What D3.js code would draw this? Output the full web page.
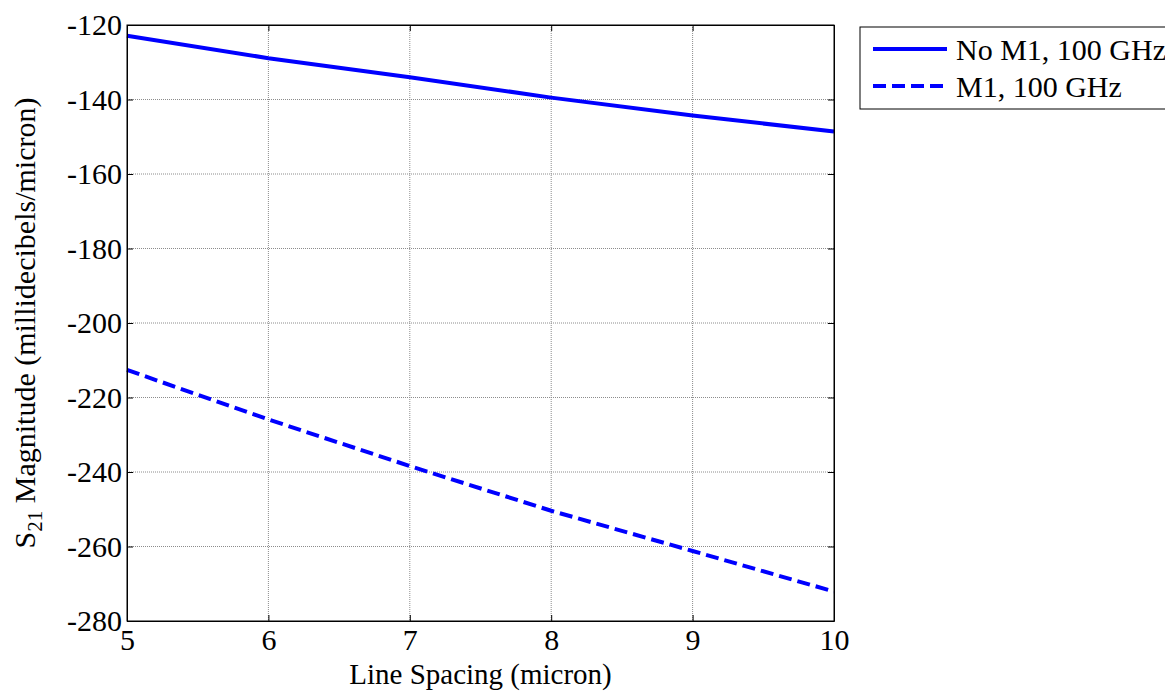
<!DOCTYPE html>
<html>
<head>
<meta charset="utf-8">
<script src="https://d3js.org/d3.v7.min.js"></script>
<style>
  body { margin: 0; background: #fff; }
  svg text { font-family: "Liberation Serif", "Times New Roman", serif; fill: #000; }
</style>
</head>
<body>
<div id="chart"></div>
<script>
"use strict"
// dados
var spacing = [5, 6, 7, 8, 9, 10];
var semM1 = [-122.9, -128.9, -134.0, -139.5, -144.3, -148.6];
var comM1 = [-212.6, -225.9, -238.4, -250.4, -261.2, -272.1];
var xTicks = [5, 6, 7, 8, 9, 10];
var yTicks = [-280, -260, -240, -220, -200, -180, -160, -140, -120];
var nomes = ["No M1, 100 GHz", "M1, 100 GHz"];

var larguraSVG = 1165, alturaSVG = 693;
var margin = {top: 25, right: 331, bottom: 72, left: 127},
    larguraVis = larguraSVG - margin.left - margin.right,
    alturaVis = alturaSVG - margin.top - margin.bottom;

var svg = d3.select('#chart').append('svg')
  .attr('width', larguraSVG).attr('height', alturaSVG);
var grafico = svg.append('g')
  .attr('transform', 'translate(' + margin.left + ',' + margin.top + ')');

var x = d3.scaleLinear().domain([5, 10]).range([0, larguraVis]);
var y = d3.scaleLinear().domain([-280, -120]).range([alturaVis, 0]);

// grade pontilhada
grafico.selectAll('.gx').data(xTicks.slice(1, -1)).enter().append('line')
  .attr('x1', d => x(d)).attr('x2', d => x(d)).attr('y1', 0).attr('y2', alturaVis)
  .attr('stroke', '#8c8c8c').attr('stroke-width', 1).attr('stroke-dasharray', '1,1');
grafico.selectAll('.gy').data(yTicks.slice(1, -1)).enter().append('line')
  .attr('y1', d => y(d)).attr('y2', d => y(d)).attr('x1', 0).attr('x2', larguraVis)
  .attr('stroke', '#8c8c8c').attr('stroke-width', 1).attr('stroke-dasharray', '1,1');

// linhas
var linha = d3.line().x((d, i) => x(spacing[i])).y(d => y(d));
grafico.append('path').datum(semM1).attr('d', linha)
  .attr('fill', 'none').attr('stroke', '#0000ff').attr('stroke-width', 4);
grafico.append('path').datum(comM1).attr('d', linha)
  .attr('fill', 'none').attr('stroke', '#0000ff').attr('stroke-width', 4)
  .attr('stroke-dasharray', '13,6');

// eixos (ticks para dentro, nos quatro lados)
var fonte = 30;
grafico.append('g').attr('transform', 'translate(0,' + alturaVis + ')')
  .call(d3.axisBottom(x).tickValues(xTicks).tickSizeInner(-6).tickSizeOuter(0).tickPadding(8)
    .tickFormat(d3.format('d')));
grafico.append('g')
  .call(d3.axisLeft(y).tickValues(yTicks).tickSizeInner(-6).tickSizeOuter(0).tickPadding(5)
    .tickFormat(d => '-' + Math.abs(d)));
grafico.append('g')
  .call(d3.axisTop(x).tickValues(xTicks).tickSizeInner(-6).tickSizeOuter(0).tickFormat(''));
grafico.append('g').attr('transform', 'translate(' + larguraVis + ',0)')
  .call(d3.axisRight(y).tickValues(yTicks).tickSizeInner(-6).tickSizeOuter(0).tickFormat(''));
grafico.selectAll('g').attr('font-family', 'Liberation Serif').attr('font-size', fonte);
grafico.selectAll('.domain').attr('stroke', '#000');
grafico.selectAll('.tick line').attr('stroke', '#000');
grafico.append('rect').attr('width', larguraVis).attr('height', alturaVis)
  .attr('fill', 'none').attr('stroke', '#000').attr('stroke-width', 1);

// titulos dos eixos
grafico.append('text')
  .attr('x', larguraVis / 2).attr('y', alturaVis + 63)
  .attr('text-anchor', 'middle').style('font-size', '29px')
  .text('Line Spacing (micron)');
var ty = grafico.append('text')
  .attr('transform', 'translate(-92,' + alturaVis / 2 + ') rotate(-90)')
  .attr('text-anchor', 'middle').style('font-size', fonte + 'px');
ty.append('tspan').text('S');
ty.append('tspan').attr('dy', 7).style('font-size', '21px').text('21');
ty.append('tspan').attr('dy', -7).text(' Magnitude (millidecibels/micron)');

// legenda
var leg = svg.append('g').attr('transform', 'translate(860,27)');
leg.append('rect').attr('width', 320).attr('height', 82)
  .attr('fill', '#fff').attr('stroke', '#000').attr('stroke-width', 1);
nomes.forEach(function (n, i) {
  var yy = 22 + i * 37;
  leg.append('line').attr('x1', 13).attr('x2', 87).attr('y1', yy).attr('y2', yy)
    .attr('stroke', '#0000ff').attr('stroke-width', 4)
    .attr('stroke-dasharray', i == 1 ? '13,6' : null);
  leg.append('text').attr('x', 96).attr('y', yy + 11)
    .style('font-size', fonte + 'px').text(n);
});
</script>
</body>
</html>
